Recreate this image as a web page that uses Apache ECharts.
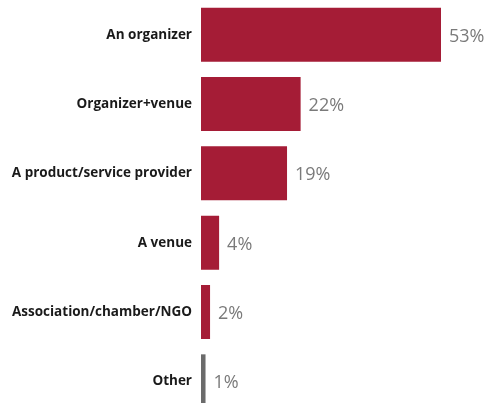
<!DOCTYPE html>
<html>
<head>
<meta charset="utf-8">
<script src="https://cdn.jsdelivr.net/npm/echarts@6/dist/echarts.min.js"></script>
<style>
  html, body { margin: 0; padding: 0; background: #fff; }
  #chart { width: 485px; height: 403px; }
</style>
</head>
<body>
<div id="chart"></div>
<script>
// Who respondents work with, share of answers (%)
const categories = [
  'An organizer',
  'Organizer+venue',
  'A product/service provider',
  'A venue',
  'Association/chamber/NGO',
  'Other'
];
const shares = [53, 22, 19, 4, 2, 1];
const barColors = ['#a51c36', '#a51c36', '#a51c36', '#a51c36', '#a51c36', '#6b6b6b'];

const chart = echarts.init(document.getElementById('chart'), null, { renderer: 'canvas' });

chart.setOption({
  animation: false,
  // plot runs a little past the bottom edge, so the last bar is cut off
  grid: {
    left: 201, top: 0, width: 240, height: 416,
    containLabel: false,
    outerBoundsMode: 'none'
  },
  xAxis: {
    type: 'value',
    min: 0,
    max: 53,
    show: false
  },
  yAxis: {
    type: 'category',
    inverse: true,
    data: categories,
    axisLine: { show: false },
    axisTick: { show: false },
    axisLabel: {
      margin: 9,
      color: '#1a1a1a',
      fontFamily: 'Open Sans',
      fontWeight: 'bold',
      fontSize: 13.5,
      padding: [2, 0, 0, 0]
    }
  },
  series: [{
    type: 'bar',
    barWidth: 54,
    data: shares.map((v, i) => ({ value: v, itemStyle: { color: barColors[i] } })),
    label: {
      show: true,
      position: 'right',
      distance: 8,
      offset: [0, 2],
      formatter: p => p.value + '%',
      color: '#7a7a7a',
      fontFamily: 'Open Sans',
      fontSize: 18
    }
  }]
});
</script>
</body>
</html>
